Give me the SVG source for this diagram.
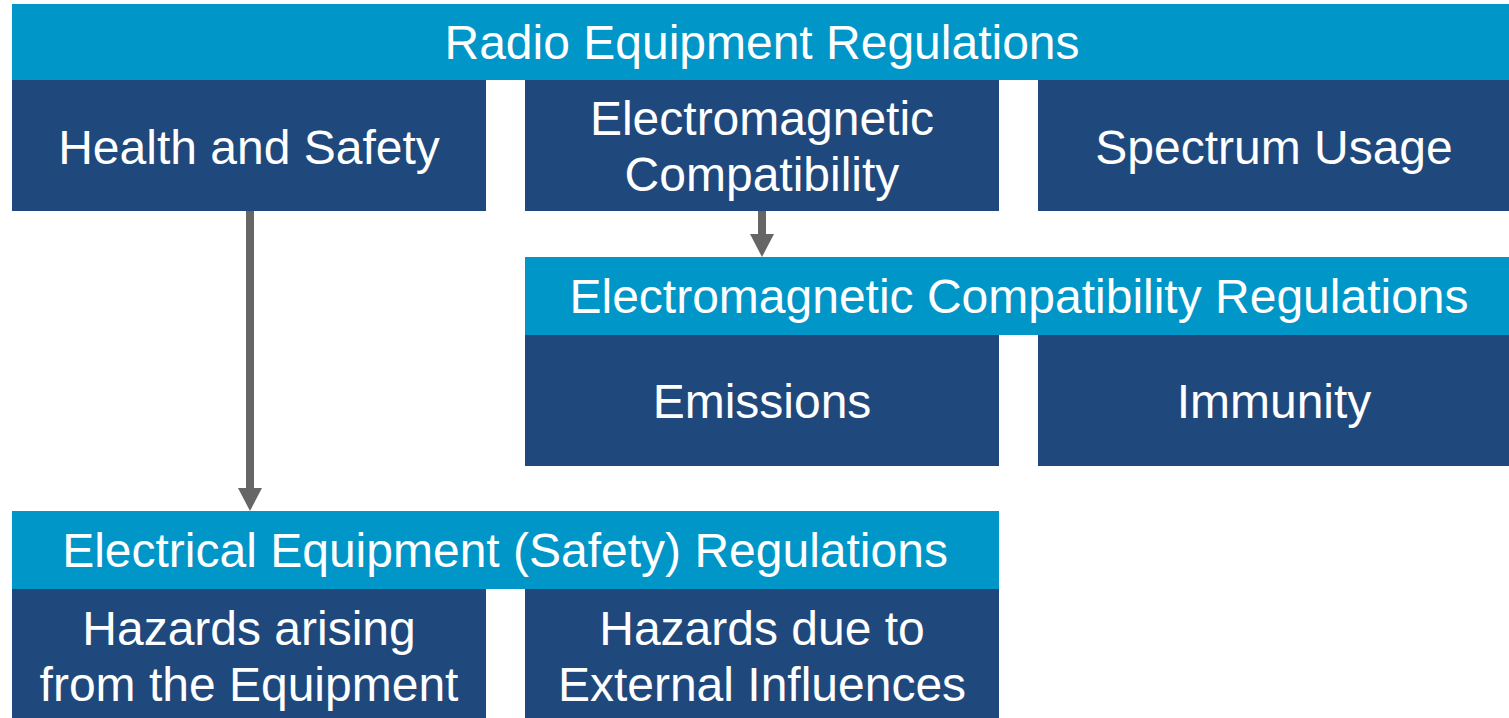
<svg xmlns="http://www.w3.org/2000/svg" width="1509" height="718" viewBox="0 0 1509 718">
<style>
.hdr{fill:#0096C8}
.box{fill:#1F497D}
text{font-family:"Liberation Sans",Arial,sans-serif;font-size:48px;fill:#FFFFFF;text-anchor:middle}
.conn{stroke:#666666;stroke-width:8;fill:none;marker-end:url(#ah)}
</style>
<defs>
<marker id="ah" markerUnits="userSpaceOnUse" markerWidth="24" markerHeight="24" refX="1" refY="12" orient="auto" viewBox="0 0 24 24">
<path d="M0,0 L23,12 L0,24 Z" fill="#666666"/>
</marker>
</defs>
<rect width="1509" height="718" fill="#FFFFFF"/>
<g id="connectors">
<path d="M250,211 L250,489" class="conn"/>
<path d="M762,211 L762,235" class="conn"/>
</g>
<g id="radio-regs"><rect class="hdr" x="12" y="4" width="1497" height="76"/><text x="762" y="59">Radio Equipment Regulations</text></g>
<g id="health-safety"><rect class="box" x="12" y="80" width="474" height="131"/><text x="249" y="164">Health and Safety</text></g>
<g id="emc"><rect class="box" x="525" y="80" width="474" height="131"/><text x="762" y="135">Electromagnetic</text><text x="762" y="191">Compatibility</text></g>
<g id="spectrum"><rect class="box" x="1038" y="80" width="471" height="131"/><text x="1274" y="164">Spectrum Usage</text></g>
<g id="emc-regs"><rect class="hdr" x="525" y="257" width="984" height="78"/><text x="1019" y="313">Electromagnetic Compatibility Regulations</text></g>
<g id="emissions"><rect class="box" x="525" y="335" width="474" height="131"/><text x="762" y="418">Emissions</text></g>
<g id="immunity"><rect class="box" x="1038" y="335" width="471" height="131"/><text x="1274" y="418">Immunity</text></g>
<g id="elec-regs"><rect class="hdr" x="12" y="511" width="987" height="78"/><text x="505" y="567">Electrical Equipment (Safety) Regulations</text></g>
<g id="hazards-arising"><rect class="box" x="12" y="589" width="474" height="129"/><text x="249" y="645">Hazards arising</text><text x="249" y="701">from the Equipment</text></g>
<g id="hazards-external"><rect class="box" x="525" y="589" width="474" height="129"/><text x="762" y="645">Hazards due to</text><text x="762" y="701">External Influences</text></g>
</svg>
